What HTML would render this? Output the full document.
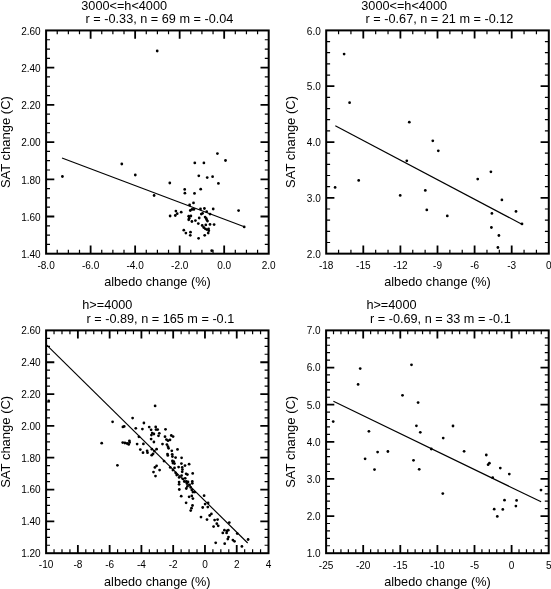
<!DOCTYPE html>
<html><head><meta charset="utf-8"><title>SAT change vs albedo change</title>
<style>html,body{margin:0;padding:0;background:#fff}svg{display:block}</style>
</head><body>
<svg width="551" height="589" viewBox="0 0 551 589" font-family='"Liberation Sans", Arial, Helvetica, sans-serif' fill="#000">
<rect width="551" height="589" fill="#fff"/>
<g><path d="M90.62 30.45v8.2M90.62 253.7v-8.2M135.14 30.45v8.2M135.14 253.7v-8.2M179.66 30.45v8.2M179.66 253.7v-8.2M224.18 30.45v8.2M224.18 253.7v-8.2M46.1 67.66h8.2M268.7 67.66h-8.2M46.1 104.87h8.2M268.7 104.87h-8.2M46.1 142.07h8.2M268.7 142.07h-8.2M46.1 179.28h8.2M268.7 179.28h-8.2M46.1 216.49h8.2M268.7 216.49h-8.2" stroke="#000" stroke-width="1.8" fill="none"/>
<path d="M57.23 30.45v3.9M57.23 253.7v-3.9M68.36 30.45v3.9M68.36 253.7v-3.9M79.49 30.45v3.9M79.49 253.7v-3.9M101.75 30.45v3.9M101.75 253.7v-3.9M112.88 30.45v3.9M112.88 253.7v-3.9M124.01 30.45v3.9M124.01 253.7v-3.9M146.27 30.45v3.9M146.27 253.7v-3.9M157.40 30.45v3.9M157.40 253.7v-3.9M168.53 30.45v3.9M168.53 253.7v-3.9M190.79 30.45v3.9M190.79 253.7v-3.9M201.92 30.45v3.9M201.92 253.7v-3.9M213.05 30.45v3.9M213.05 253.7v-3.9M235.31 30.45v3.9M235.31 253.7v-3.9M246.44 30.45v3.9M246.44 253.7v-3.9M257.57 30.45v3.9M257.57 253.7v-3.9M46.1 39.75h3.9M268.7 39.75h-3.9M46.1 49.05h3.9M268.7 49.05h-3.9M46.1 58.36h3.9M268.7 58.36h-3.9M46.1 76.96h3.9M268.7 76.96h-3.9M46.1 86.26h3.9M268.7 86.26h-3.9M46.1 95.56h3.9M268.7 95.56h-3.9M46.1 114.17h3.9M268.7 114.17h-3.9M46.1 123.47h3.9M268.7 123.47h-3.9M46.1 132.77h3.9M268.7 132.77h-3.9M46.1 151.38h3.9M268.7 151.38h-3.9M46.1 160.68h3.9M268.7 160.68h-3.9M46.1 169.98h3.9M268.7 169.98h-3.9M46.1 188.59h3.9M268.7 188.59h-3.9M46.1 197.89h3.9M268.7 197.89h-3.9M46.1 207.19h3.9M268.7 207.19h-3.9M46.1 225.79h3.9M268.7 225.79h-3.9M46.1 235.10h3.9M268.7 235.10h-3.9M46.1 244.40h3.9M268.7 244.40h-3.9" stroke="#000" stroke-width="1.2" fill="none"/>
<rect x="46.1" y="30.45" width="222.60" height="223.25" fill="none" stroke="#000" stroke-width="2.0"/>
<text x="46.1" y="269.1" font-size="10.05" text-anchor="middle">-8.0</text>
<text x="90.6" y="269.1" font-size="10.05" text-anchor="middle">-6.0</text>
<text x="135.1" y="269.1" font-size="10.05" text-anchor="middle">-4.0</text>
<text x="179.7" y="269.1" font-size="10.05" text-anchor="middle">-2.0</text>
<text x="224.2" y="269.1" font-size="10.05" text-anchor="middle">0.0</text>
<text x="268.7" y="269.1" font-size="10.05" text-anchor="middle">2.0</text>
<text x="40.7" y="34.6" font-size="10.05" text-anchor="end">2.60</text>
<text x="40.7" y="71.9" font-size="10.05" text-anchor="end">2.40</text>
<text x="40.7" y="109.1" font-size="10.05" text-anchor="end">2.20</text>
<text x="40.7" y="146.3" font-size="10.05" text-anchor="end">2.00</text>
<text x="40.7" y="183.5" font-size="10.05" text-anchor="end">1.80</text>
<text x="40.7" y="220.7" font-size="10.05" text-anchor="end">1.60</text>
<text x="40.7" y="257.9" font-size="10.05" text-anchor="end">1.40</text>
<text x="81.3" y="9.7" font-size="12.7">3000&lt;=h&lt;4000</text>
<text x="85.6" y="23.3" font-size="12.7">r = -0.33, n = 69 m = -0.04</text>
<text x="157.4" y="286.4" font-size="12.7" text-anchor="middle">albedo change (%)</text>
<text transform="translate(9.5 142.1) rotate(-90)" font-size="13" text-anchor="middle">SAT change (C)</text>
<line x1="62.0" y1="158.0" x2="244.3" y2="226.8" stroke="#000" stroke-width="1.15"/>
<g><circle cx="157.2" cy="51.0" r="1.38"/><circle cx="62.4" cy="176.5" r="1.38"/><circle cx="121.8" cy="164.0" r="1.38"/><circle cx="135.3" cy="175.0" r="1.38"/><circle cx="154.1" cy="195.5" r="1.38"/><circle cx="217.4" cy="153.6" r="1.38"/><circle cx="225.5" cy="160.5" r="1.38"/><circle cx="194.8" cy="162.9" r="1.38"/><circle cx="203.9" cy="162.9" r="1.38"/><circle cx="198.8" cy="175.8" r="1.38"/><circle cx="207.2" cy="177.6" r="1.38"/><circle cx="212.6" cy="176.7" r="1.38"/><circle cx="218.4" cy="183.4" r="1.38"/><circle cx="169.8" cy="183.0" r="1.38"/><circle cx="184.7" cy="189.4" r="1.38"/><circle cx="184.9" cy="193.2" r="1.38"/><circle cx="194.5" cy="193.4" r="1.38"/><circle cx="200.7" cy="189.2" r="1.38"/><circle cx="193.5" cy="202.9" r="1.38"/><circle cx="189.6" cy="205.0" r="1.38"/><circle cx="175.9" cy="211.1" r="1.38"/><circle cx="177.2" cy="213.7" r="1.38"/><circle cx="175.3" cy="215.5" r="1.38"/><circle cx="170.1" cy="216.0" r="1.38"/><circle cx="181.2" cy="212.2" r="1.38"/><circle cx="190.3" cy="210.5" r="1.38"/><circle cx="192.0" cy="209.4" r="1.38"/><circle cx="193.9" cy="209.4" r="1.38"/><circle cx="200.5" cy="208.9" r="1.38"/><circle cx="204.4" cy="208.5" r="1.38"/><circle cx="213.2" cy="209.0" r="1.38"/><circle cx="206.7" cy="211.7" r="1.38"/><circle cx="202.6" cy="213.3" r="1.38"/><circle cx="201.3" cy="214.1" r="1.38"/><circle cx="210.0" cy="214.1" r="1.38"/><circle cx="188.7" cy="216.2" r="1.38"/><circle cx="190.9" cy="216.0" r="1.38"/><circle cx="189.2" cy="218.2" r="1.38"/><circle cx="188.7" cy="219.8" r="1.38"/><circle cx="191.9" cy="221.5" r="1.38"/><circle cx="195.4" cy="220.6" r="1.38"/><circle cx="199.2" cy="218.0" r="1.38"/><circle cx="205.1" cy="217.1" r="1.38"/><circle cx="206.2" cy="218.4" r="1.38"/><circle cx="206.7" cy="219.8" r="1.38"/><circle cx="207.5" cy="221.1" r="1.38"/><circle cx="198.3" cy="223.6" r="1.38"/><circle cx="202.2" cy="225.5" r="1.38"/><circle cx="205.8" cy="224.9" r="1.38"/><circle cx="210.0" cy="224.4" r="1.38"/><circle cx="214.1" cy="224.6" r="1.38"/><circle cx="203.7" cy="227.5" r="1.38"/><circle cx="205.3" cy="228.8" r="1.38"/><circle cx="206.9" cy="229.6" r="1.38"/><circle cx="208.6" cy="228.8" r="1.38"/><circle cx="208.8" cy="230.7" r="1.38"/><circle cx="208.2" cy="233.1" r="1.38"/><circle cx="204.7" cy="235.3" r="1.38"/><circle cx="198.6" cy="238.3" r="1.38"/><circle cx="183.8" cy="230.2" r="1.38"/><circle cx="185.9" cy="233.1" r="1.38"/><circle cx="190.5" cy="232.2" r="1.38"/><circle cx="190.3" cy="235.3" r="1.38"/><circle cx="238.6" cy="210.6" r="1.38"/><circle cx="244.2" cy="226.9" r="1.38"/><circle cx="211.7" cy="250.7" r="1.38"/></g></g>
<g><path d="M363.30 30.4v8.2M363.30 253.65v-8.2M400.40 30.4v8.2M400.40 253.65v-8.2M437.50 30.4v8.2M437.50 253.65v-8.2M474.60 30.4v8.2M474.60 253.65v-8.2M511.70 30.4v8.2M511.70 253.65v-8.2M326.2 86.21h8.2M548.8 86.21h-8.2M326.2 142.03h8.2M548.8 142.03h-8.2M326.2 197.84h8.2M548.8 197.84h-8.2" stroke="#000" stroke-width="1.8" fill="none"/>
<path d="M338.57 30.4v3.9M338.57 253.65v-3.9M350.93 30.4v3.9M350.93 253.65v-3.9M375.67 30.4v3.9M375.67 253.65v-3.9M388.03 30.4v3.9M388.03 253.65v-3.9M412.77 30.4v3.9M412.77 253.65v-3.9M425.13 30.4v3.9M425.13 253.65v-3.9M449.87 30.4v3.9M449.87 253.65v-3.9M462.23 30.4v3.9M462.23 253.65v-3.9M486.97 30.4v3.9M486.97 253.65v-3.9M499.33 30.4v3.9M499.33 253.65v-3.9M524.07 30.4v3.9M524.07 253.65v-3.9M536.43 30.4v3.9M536.43 253.65v-3.9M326.2 41.56h3.9M548.8 41.56h-3.9M326.2 52.72h3.9M548.8 52.72h-3.9M326.2 63.89h3.9M548.8 63.89h-3.9M326.2 75.05h3.9M548.8 75.05h-3.9M326.2 97.38h3.9M548.8 97.38h-3.9M326.2 108.54h3.9M548.8 108.54h-3.9M326.2 119.70h3.9M548.8 119.70h-3.9M326.2 130.86h3.9M548.8 130.86h-3.9M326.2 153.19h3.9M548.8 153.19h-3.9M326.2 164.35h3.9M548.8 164.35h-3.9M326.2 175.51h3.9M548.8 175.51h-3.9M326.2 186.68h3.9M548.8 186.68h-3.9M326.2 209.00h3.9M548.8 209.00h-3.9M326.2 220.16h3.9M548.8 220.16h-3.9M326.2 231.32h3.9M548.8 231.32h-3.9M326.2 242.49h3.9M548.8 242.49h-3.9" stroke="#000" stroke-width="1.2" fill="none"/>
<rect x="326.2" y="30.4" width="222.60" height="223.25" fill="none" stroke="#000" stroke-width="2.0"/>
<text x="326.2" y="269.1" font-size="10.05" text-anchor="middle">-18</text>
<text x="363.3" y="269.1" font-size="10.05" text-anchor="middle">-15</text>
<text x="400.4" y="269.1" font-size="10.05" text-anchor="middle">-12</text>
<text x="437.5" y="269.1" font-size="10.05" text-anchor="middle">-9</text>
<text x="474.6" y="269.1" font-size="10.05" text-anchor="middle">-6</text>
<text x="511.7" y="269.1" font-size="10.05" text-anchor="middle">-3</text>
<text x="548.8" y="269.1" font-size="10.05" text-anchor="middle">0</text>
<text x="320.8" y="34.6" font-size="10.05" text-anchor="end">6.0</text>
<text x="320.8" y="90.4" font-size="10.05" text-anchor="end">5.0</text>
<text x="320.8" y="146.2" font-size="10.05" text-anchor="end">4.0</text>
<text x="320.8" y="202.0" font-size="10.05" text-anchor="end">3.0</text>
<text x="320.8" y="257.9" font-size="10.05" text-anchor="end">2.0</text>
<text x="361.3" y="9.7" font-size="12.7">3000&lt;=h&lt;4000</text>
<text x="365.6" y="23.3" font-size="12.7">r = -0.67, n = 21 m = -0.12</text>
<text x="437.5" y="286.4" font-size="12.7" text-anchor="middle">albedo change (%)</text>
<text transform="translate(295.4 142.0) rotate(-90)" font-size="13" text-anchor="middle">SAT change (C)</text>
<line x1="335.3" y1="125.8" x2="522.3" y2="224.5" stroke="#000" stroke-width="1.15"/>
<g><circle cx="344.1" cy="54.1" r="1.38"/><circle cx="349.6" cy="102.7" r="1.38"/><circle cx="335.1" cy="187.4" r="1.38"/><circle cx="358.7" cy="180.4" r="1.38"/><circle cx="409.3" cy="122.2" r="1.38"/><circle cx="406.8" cy="160.8" r="1.38"/><circle cx="400.2" cy="195.4" r="1.38"/><circle cx="432.8" cy="140.8" r="1.38"/><circle cx="438.3" cy="150.8" r="1.38"/><circle cx="425.3" cy="190.4" r="1.38"/><circle cx="426.8" cy="209.9" r="1.38"/><circle cx="447.3" cy="215.9" r="1.38"/><circle cx="477.7" cy="179.1" r="1.38"/><circle cx="490.9" cy="171.8" r="1.38"/><circle cx="501.9" cy="199.9" r="1.38"/><circle cx="491.9" cy="213.4" r="1.38"/><circle cx="491.4" cy="227.5" r="1.38"/><circle cx="498.9" cy="235.5" r="1.38"/><circle cx="497.9" cy="247.5" r="1.38"/><circle cx="516.0" cy="211.4" r="1.38"/><circle cx="522.0" cy="223.9" r="1.38"/></g></g>
<g><path d="M77.87 330.4v8.2M77.87 553.2v-8.2M109.64 330.4v8.2M109.64 553.2v-8.2M141.41 330.4v8.2M141.41 553.2v-8.2M173.19 330.4v8.2M173.19 553.2v-8.2M204.96 330.4v8.2M204.96 553.2v-8.2M236.73 330.4v8.2M236.73 553.2v-8.2M46.1 362.23h8.2M268.5 362.23h-8.2M46.1 394.06h8.2M268.5 394.06h-8.2M46.1 425.89h8.2M268.5 425.89h-8.2M46.1 457.71h8.2M268.5 457.71h-8.2M46.1 489.54h8.2M268.5 489.54h-8.2M46.1 521.37h8.2M268.5 521.37h-8.2" stroke="#000" stroke-width="1.8" fill="none"/>
<path d="M54.04 330.4v3.9M54.04 553.2v-3.9M61.99 330.4v3.9M61.99 553.2v-3.9M69.93 330.4v3.9M69.93 553.2v-3.9M85.81 330.4v3.9M85.81 553.2v-3.9M93.76 330.4v3.9M93.76 553.2v-3.9M101.70 330.4v3.9M101.70 553.2v-3.9M117.59 330.4v3.9M117.59 553.2v-3.9M125.53 330.4v3.9M125.53 553.2v-3.9M133.47 330.4v3.9M133.47 553.2v-3.9M149.36 330.4v3.9M149.36 553.2v-3.9M157.30 330.4v3.9M157.30 553.2v-3.9M165.24 330.4v3.9M165.24 553.2v-3.9M181.13 330.4v3.9M181.13 553.2v-3.9M189.07 330.4v3.9M189.07 553.2v-3.9M197.01 330.4v3.9M197.01 553.2v-3.9M212.90 330.4v3.9M212.90 553.2v-3.9M220.84 330.4v3.9M220.84 553.2v-3.9M228.79 330.4v3.9M228.79 553.2v-3.9M244.67 330.4v3.9M244.67 553.2v-3.9M252.61 330.4v3.9M252.61 553.2v-3.9M260.56 330.4v3.9M260.56 553.2v-3.9M46.1 338.36h3.9M268.5 338.36h-3.9M46.1 346.31h3.9M268.5 346.31h-3.9M46.1 354.27h3.9M268.5 354.27h-3.9M46.1 370.19h3.9M268.5 370.19h-3.9M46.1 378.14h3.9M268.5 378.14h-3.9M46.1 386.10h3.9M268.5 386.10h-3.9M46.1 402.01h3.9M268.5 402.01h-3.9M46.1 409.97h3.9M268.5 409.97h-3.9M46.1 417.93h3.9M268.5 417.93h-3.9M46.1 433.84h3.9M268.5 433.84h-3.9M46.1 441.80h3.9M268.5 441.80h-3.9M46.1 449.76h3.9M268.5 449.76h-3.9M46.1 465.67h3.9M268.5 465.67h-3.9M46.1 473.63h3.9M268.5 473.63h-3.9M46.1 481.59h3.9M268.5 481.59h-3.9M46.1 497.50h3.9M268.5 497.50h-3.9M46.1 505.46h3.9M268.5 505.46h-3.9M46.1 513.41h3.9M268.5 513.41h-3.9M46.1 529.33h3.9M268.5 529.33h-3.9M46.1 537.29h3.9M268.5 537.29h-3.9M46.1 545.24h3.9M268.5 545.24h-3.9" stroke="#000" stroke-width="1.2" fill="none"/>
<rect x="46.1" y="330.4" width="222.40" height="222.80" fill="none" stroke="#000" stroke-width="2.0"/>
<text x="46.1" y="568.1" font-size="10.05" text-anchor="middle">-10</text>
<text x="77.9" y="568.1" font-size="10.05" text-anchor="middle">-8</text>
<text x="109.6" y="568.1" font-size="10.05" text-anchor="middle">-6</text>
<text x="141.4" y="568.1" font-size="10.05" text-anchor="middle">-4</text>
<text x="173.2" y="568.1" font-size="10.05" text-anchor="middle">-2</text>
<text x="205.0" y="568.1" font-size="10.05" text-anchor="middle">0</text>
<text x="236.7" y="568.1" font-size="10.05" text-anchor="middle">2</text>
<text x="268.5" y="568.1" font-size="10.05" text-anchor="middle">4</text>
<text x="40.7" y="334.3" font-size="10.05" text-anchor="end">2.60</text>
<text x="40.7" y="366.1" font-size="10.05" text-anchor="end">2.40</text>
<text x="40.7" y="398.0" font-size="10.05" text-anchor="end">2.20</text>
<text x="40.7" y="429.8" font-size="10.05" text-anchor="end">2.00</text>
<text x="40.7" y="461.6" font-size="10.05" text-anchor="end">1.80</text>
<text x="40.7" y="493.4" font-size="10.05" text-anchor="end">1.60</text>
<text x="40.7" y="525.3" font-size="10.05" text-anchor="end">1.40</text>
<text x="40.7" y="557.1" font-size="10.05" text-anchor="end">1.20</text>
<text x="82.3" y="309.2" font-size="12.7">h&gt;=4000</text>
<text x="86.5" y="323.1" font-size="12.7">r = -0.89, n = 165 m = -0.1</text>
<text x="157.3" y="585.7" font-size="12.7" text-anchor="middle">albedo change (%)</text>
<text transform="translate(9.5 441.8) rotate(-90)" font-size="13" text-anchor="middle">SAT change (C)</text>
<line x1="46.5" y1="344.9" x2="247.7" y2="543.0" stroke="#000" stroke-width="1.15"/>
<g><circle cx="48.7" cy="400.9" r="1.38"/><circle cx="112.6" cy="421.8" r="1.38"/><circle cx="132.6" cy="418.1" r="1.38"/><circle cx="122.9" cy="426.9" r="1.38"/><circle cx="124.2" cy="426.4" r="1.38"/><circle cx="135.8" cy="428.3" r="1.38"/><circle cx="138.9" cy="436.8" r="1.38"/><circle cx="101.7" cy="443.2" r="1.38"/><circle cx="122.7" cy="442.6" r="1.38"/><circle cx="124.9" cy="443.0" r="1.38"/><circle cx="127.1" cy="443.5" r="1.38"/><circle cx="128.7" cy="444.4" r="1.38"/><circle cx="129.6" cy="442.4" r="1.38"/><circle cx="129.4" cy="440.8" r="1.38"/><circle cx="137.1" cy="444.1" r="1.38"/><circle cx="140.3" cy="449.6" r="1.38"/><circle cx="117.4" cy="465.3" r="1.38"/><circle cx="155.1" cy="405.9" r="1.38"/><circle cx="143.9" cy="423.0" r="1.38"/><circle cx="142.4" cy="429.1" r="1.38"/><circle cx="149.2" cy="427.1" r="1.38"/><circle cx="151.1" cy="429.8" r="1.38"/><circle cx="155.7" cy="426.9" r="1.38"/><circle cx="156.0" cy="429.6" r="1.38"/><circle cx="157.7" cy="429.6" r="1.38"/><circle cx="165.5" cy="429.3" r="1.38"/><circle cx="152.2" cy="433.1" r="1.38"/><circle cx="153.9" cy="434.0" r="1.38"/><circle cx="151.4" cy="435.1" r="1.38"/><circle cx="159.3" cy="433.3" r="1.38"/><circle cx="158.5" cy="435.8" r="1.38"/><circle cx="165.0" cy="436.7" r="1.38"/><circle cx="171.3" cy="435.5" r="1.38"/><circle cx="173.1" cy="436.6" r="1.38"/><circle cx="151.1" cy="439.1" r="1.38"/><circle cx="153.9" cy="442.0" r="1.38"/><circle cx="166.4" cy="439.6" r="1.38"/><circle cx="168.0" cy="440.7" r="1.38"/><circle cx="170.0" cy="439.9" r="1.38"/><circle cx="143.4" cy="443.9" r="1.38"/><circle cx="162.5" cy="444.1" r="1.38"/><circle cx="166.9" cy="444.6" r="1.38"/><circle cx="168.0" cy="446.7" r="1.38"/><circle cx="168.6" cy="448.3" r="1.38"/><circle cx="143.0" cy="452.7" r="1.38"/><circle cx="147.1" cy="450.8" r="1.38"/><circle cx="147.5" cy="452.7" r="1.38"/><circle cx="151.9" cy="449.2" r="1.38"/><circle cx="156.6" cy="449.2" r="1.38"/><circle cx="154.4" cy="451.1" r="1.38"/><circle cx="153.1" cy="453.8" r="1.38"/><circle cx="151.7" cy="455.2" r="1.38"/><circle cx="171.8" cy="450.8" r="1.38"/><circle cx="177.5" cy="449.4" r="1.38"/><circle cx="167.5" cy="454.1" r="1.38"/><circle cx="167.8" cy="455.4" r="1.38"/><circle cx="172.2" cy="454.3" r="1.38"/><circle cx="172.4" cy="456.5" r="1.38"/><circle cx="175.6" cy="457.6" r="1.38"/><circle cx="181.6" cy="457.8" r="1.38"/><circle cx="164.0" cy="461.1" r="1.38"/><circle cx="172.4" cy="460.9" r="1.38"/><circle cx="173.8" cy="461.7" r="1.38"/><circle cx="172.9" cy="463.0" r="1.38"/><circle cx="174.5" cy="463.6" r="1.38"/><circle cx="181.4" cy="463.6" r="1.38"/><circle cx="156.6" cy="465.8" r="1.38"/><circle cx="154.9" cy="467.4" r="1.38"/><circle cx="159.6" cy="470.1" r="1.38"/><circle cx="153.5" cy="472.1" r="1.38"/><circle cx="155.5" cy="476.1" r="1.38"/><circle cx="170.2" cy="467.4" r="1.38"/><circle cx="174.5" cy="467.9" r="1.38"/><circle cx="178.6" cy="467.1" r="1.38"/><circle cx="182.2" cy="467.4" r="1.38"/><circle cx="182.4" cy="469.6" r="1.38"/><circle cx="172.9" cy="470.1" r="1.38"/><circle cx="182.2" cy="471.8" r="1.38"/><circle cx="175.6" cy="472.8" r="1.38"/><circle cx="176.7" cy="475.0" r="1.38"/><circle cx="181.6" cy="475.6" r="1.38"/><circle cx="179.1" cy="477.4" r="1.38"/><circle cx="182.7" cy="478.8" r="1.38"/><circle cx="179.1" cy="482.1" r="1.38"/><circle cx="179.1" cy="484.3" r="1.38"/><circle cx="184.3" cy="481.6" r="1.38"/><circle cx="189.1" cy="464.2" r="1.38"/><circle cx="185.0" cy="465.6" r="1.38"/><circle cx="192.7" cy="473.4" r="1.38"/><circle cx="186.1" cy="473.8" r="1.38"/><circle cx="187.4" cy="474.6" r="1.38"/><circle cx="185.2" cy="478.3" r="1.38"/><circle cx="186.3" cy="481.4" r="1.38"/><circle cx="188.0" cy="481.9" r="1.38"/><circle cx="192.3" cy="481.4" r="1.38"/><circle cx="192.3" cy="483.3" r="1.38"/><circle cx="186.9" cy="483.6" r="1.38"/><circle cx="189.6" cy="484.9" r="1.38"/><circle cx="187.4" cy="486.3" r="1.38"/><circle cx="190.7" cy="487.4" r="1.38"/><circle cx="186.3" cy="488.5" r="1.38"/><circle cx="179.3" cy="489.5" r="1.38"/><circle cx="191.8" cy="489.9" r="1.38"/><circle cx="192.9" cy="492.1" r="1.38"/><circle cx="194.8" cy="492.1" r="1.38"/><circle cx="181.2" cy="496.2" r="1.38"/><circle cx="189.1" cy="496.8" r="1.38"/><circle cx="191.8" cy="495.9" r="1.38"/><circle cx="192.9" cy="498.6" r="1.38"/><circle cx="204.1" cy="495.7" r="1.38"/><circle cx="186.1" cy="502.8" r="1.38"/><circle cx="192.5" cy="505.5" r="1.38"/><circle cx="191.5" cy="508.2" r="1.38"/><circle cx="190.7" cy="510.6" r="1.38"/><circle cx="208.1" cy="503.0" r="1.38"/><circle cx="205.1" cy="504.1" r="1.38"/><circle cx="202.7" cy="507.5" r="1.38"/><circle cx="207.8" cy="507.1" r="1.38"/><circle cx="211.4" cy="513.9" r="1.38"/><circle cx="209.7" cy="515.5" r="1.38"/><circle cx="201.0" cy="517.1" r="1.38"/><circle cx="207.0" cy="519.6" r="1.38"/><circle cx="214.6" cy="520.1" r="1.38"/><circle cx="217.6" cy="519.6" r="1.38"/><circle cx="216.8" cy="523.7" r="1.38"/><circle cx="218.2" cy="525.8" r="1.38"/><circle cx="213.6" cy="526.6" r="1.38"/><circle cx="229.3" cy="522.6" r="1.38"/><circle cx="224.4" cy="530.2" r="1.38"/><circle cx="228.3" cy="530.2" r="1.38"/><circle cx="222.8" cy="532.9" r="1.38"/><circle cx="226.6" cy="532.9" r="1.38"/><circle cx="226.9" cy="530.9" r="1.38"/><circle cx="237.2" cy="533.6" r="1.38"/><circle cx="228.5" cy="537.1" r="1.38"/><circle cx="227.8" cy="539.1" r="1.38"/><circle cx="232.9" cy="540.1" r="1.38"/><circle cx="234.5" cy="541.3" r="1.38"/><circle cx="215.7" cy="542.8" r="1.38"/><circle cx="224.7" cy="543.7" r="1.38"/><circle cx="248.1" cy="539.5" r="1.38"/><circle cx="241.9" cy="546.4" r="1.38"/></g></g>
<g><path d="M363.20 330.4v8.2M363.20 553.2v-8.2M400.30 330.4v8.2M400.30 553.2v-8.2M437.40 330.4v8.2M437.40 553.2v-8.2M474.50 330.4v8.2M474.50 553.2v-8.2M511.60 330.4v8.2M511.60 553.2v-8.2M326.1 367.53h8.2M548.7 367.53h-8.2M326.1 404.67h8.2M548.7 404.67h-8.2M326.1 441.80h8.2M548.7 441.80h-8.2M326.1 478.93h8.2M548.7 478.93h-8.2M326.1 516.07h8.2M548.7 516.07h-8.2" stroke="#000" stroke-width="1.8" fill="none"/>
<path d="M333.52 330.4v3.9M333.52 553.2v-3.9M340.94 330.4v3.9M340.94 553.2v-3.9M348.36 330.4v3.9M348.36 553.2v-3.9M355.78 330.4v3.9M355.78 553.2v-3.9M370.62 330.4v3.9M370.62 553.2v-3.9M378.04 330.4v3.9M378.04 553.2v-3.9M385.46 330.4v3.9M385.46 553.2v-3.9M392.88 330.4v3.9M392.88 553.2v-3.9M407.72 330.4v3.9M407.72 553.2v-3.9M415.14 330.4v3.9M415.14 553.2v-3.9M422.56 330.4v3.9M422.56 553.2v-3.9M429.98 330.4v3.9M429.98 553.2v-3.9M444.82 330.4v3.9M444.82 553.2v-3.9M452.24 330.4v3.9M452.24 553.2v-3.9M459.66 330.4v3.9M459.66 553.2v-3.9M467.08 330.4v3.9M467.08 553.2v-3.9M481.92 330.4v3.9M481.92 553.2v-3.9M489.34 330.4v3.9M489.34 553.2v-3.9M496.76 330.4v3.9M496.76 553.2v-3.9M504.18 330.4v3.9M504.18 553.2v-3.9M519.02 330.4v3.9M519.02 553.2v-3.9M526.44 330.4v3.9M526.44 553.2v-3.9M533.86 330.4v3.9M533.86 553.2v-3.9M541.28 330.4v3.9M541.28 553.2v-3.9M326.1 337.83h3.9M548.7 337.83h-3.9M326.1 345.25h3.9M548.7 345.25h-3.9M326.1 352.68h3.9M548.7 352.68h-3.9M326.1 360.11h3.9M548.7 360.11h-3.9M326.1 374.96h3.9M548.7 374.96h-3.9M326.1 382.39h3.9M548.7 382.39h-3.9M326.1 389.81h3.9M548.7 389.81h-3.9M326.1 397.24h3.9M548.7 397.24h-3.9M326.1 412.09h3.9M548.7 412.09h-3.9M326.1 419.52h3.9M548.7 419.52h-3.9M326.1 426.95h3.9M548.7 426.95h-3.9M326.1 434.37h3.9M548.7 434.37h-3.9M326.1 449.23h3.9M548.7 449.23h-3.9M326.1 456.65h3.9M548.7 456.65h-3.9M326.1 464.08h3.9M548.7 464.08h-3.9M326.1 471.51h3.9M548.7 471.51h-3.9M326.1 486.36h3.9M548.7 486.36h-3.9M326.1 493.79h3.9M548.7 493.79h-3.9M326.1 501.21h3.9M548.7 501.21h-3.9M326.1 508.64h3.9M548.7 508.64h-3.9M326.1 523.49h3.9M548.7 523.49h-3.9M326.1 530.92h3.9M548.7 530.92h-3.9M326.1 538.35h3.9M548.7 538.35h-3.9M326.1 545.77h3.9M548.7 545.77h-3.9" stroke="#000" stroke-width="1.2" fill="none"/>
<rect x="326.1" y="330.4" width="222.60" height="222.80" fill="none" stroke="#000" stroke-width="2.0"/>
<text x="326.1" y="568.5" font-size="10.05" text-anchor="middle">-25</text>
<text x="363.2" y="568.5" font-size="10.05" text-anchor="middle">-20</text>
<text x="400.3" y="568.5" font-size="10.05" text-anchor="middle">-15</text>
<text x="437.4" y="568.5" font-size="10.05" text-anchor="middle">-10</text>
<text x="474.5" y="568.5" font-size="10.05" text-anchor="middle">-5</text>
<text x="511.6" y="568.5" font-size="10.05" text-anchor="middle">0</text>
<text x="548.7" y="568.5" font-size="10.05" text-anchor="middle">5</text>
<text x="320.7" y="334.3" font-size="10.05" text-anchor="end">7.0</text>
<text x="320.7" y="371.4" font-size="10.05" text-anchor="end">6.0</text>
<text x="320.7" y="408.6" font-size="10.05" text-anchor="end">5.0</text>
<text x="320.7" y="445.7" font-size="10.05" text-anchor="end">4.0</text>
<text x="320.7" y="482.8" font-size="10.05" text-anchor="end">3.0</text>
<text x="320.7" y="520.0" font-size="10.05" text-anchor="end">2.0</text>
<text x="320.7" y="557.1" font-size="10.05" text-anchor="end">1.0</text>
<text x="366.4" y="309.2" font-size="12.7">h&gt;=4000</text>
<text x="370.0" y="323.1" font-size="12.7">r = -0.69, n = 33 m = -0.1</text>
<text x="437.4" y="585.7" font-size="12.7" text-anchor="middle">albedo change (%)</text>
<text transform="translate(295.4 441.8) rotate(-90)" font-size="13" text-anchor="middle">SAT change (C)</text>
<line x1="333.4" y1="401.3" x2="541.1" y2="501.8" stroke="#000" stroke-width="1.15"/>
<g><circle cx="360.2" cy="368.6" r="1.38"/><circle cx="358.1" cy="384.4" r="1.38"/><circle cx="333.2" cy="421.6" r="1.38"/><circle cx="368.9" cy="431.3" r="1.38"/><circle cx="365.1" cy="458.8" r="1.38"/><circle cx="377.6" cy="452.1" r="1.38"/><circle cx="374.5" cy="469.6" r="1.38"/><circle cx="387.9" cy="451.5" r="1.38"/><circle cx="411.5" cy="364.8" r="1.38"/><circle cx="402.5" cy="395.3" r="1.38"/><circle cx="418.1" cy="402.6" r="1.38"/><circle cx="416.4" cy="425.8" r="1.38"/><circle cx="420.3" cy="432.3" r="1.38"/><circle cx="413.5" cy="460.3" r="1.38"/><circle cx="419.2" cy="469.3" r="1.38"/><circle cx="431.3" cy="449.0" r="1.38"/><circle cx="453.0" cy="426.0" r="1.38"/><circle cx="443.2" cy="438.1" r="1.38"/><circle cx="442.8" cy="493.6" r="1.38"/><circle cx="464.1" cy="451.3" r="1.38"/><circle cx="486.3" cy="455.0" r="1.38"/><circle cx="488.1" cy="464.7" r="1.38"/><circle cx="489.4" cy="463.2" r="1.38"/><circle cx="492.7" cy="477.7" r="1.38"/><circle cx="500.3" cy="468.1" r="1.38"/><circle cx="509.3" cy="474.1" r="1.38"/><circle cx="494.2" cy="509.2" r="1.38"/><circle cx="497.3" cy="516.4" r="1.38"/><circle cx="502.8" cy="509.4" r="1.38"/><circle cx="504.5" cy="500.2" r="1.38"/><circle cx="516.6" cy="500.4" r="1.38"/><circle cx="515.9" cy="506.1" r="1.38"/><circle cx="541.0" cy="490.1" r="1.38"/></g></g>
</svg>
</body></html>
